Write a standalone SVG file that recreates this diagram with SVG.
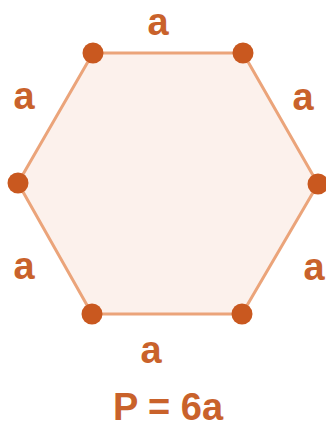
<svg xmlns="http://www.w3.org/2000/svg" width="326" height="429" viewBox="0 0 326 429">
<style>
.lbl{font-family:"Liberation Sans",Arial,sans-serif;font-weight:bold;font-size:38px;fill:#c9622b;text-anchor:middle}
.dot{fill:#c9581f}
</style>
<rect width="326" height="429" fill="#ffffff"/>
<g id="hexagon">
<polygon points="93,53 243,53 318,184 242,314 92,314 18,183" fill="#fcf1ec" stroke="#eba47a" stroke-width="3" stroke-linejoin="round"/>
</g>
<g id="vertices">
<circle class="dot" cx="93" cy="53" r="10.5"/>
<circle class="dot" cx="243" cy="53" r="10.5"/>
<circle class="dot" cx="318" cy="184" r="10.5"/>
<circle class="dot" cx="242" cy="314" r="10.5"/>
<circle class="dot" cx="92" cy="314" r="10.5"/>
<circle class="dot" cx="18" cy="183" r="10.5"/>
</g>
<g id="labels">
<text class="lbl" x="158" y="35">a</text>
<text class="lbl" x="24" y="109">a</text>
<text class="lbl" x="303" y="110">a</text>
<text class="lbl" x="24" y="279">a</text>
<text class="lbl" x="314" y="280">a</text>
<text class="lbl" x="151" y="363">a</text>
<text class="lbl" x="168" y="420" font-size="36">P = 6a</text>
</g>
</svg>
